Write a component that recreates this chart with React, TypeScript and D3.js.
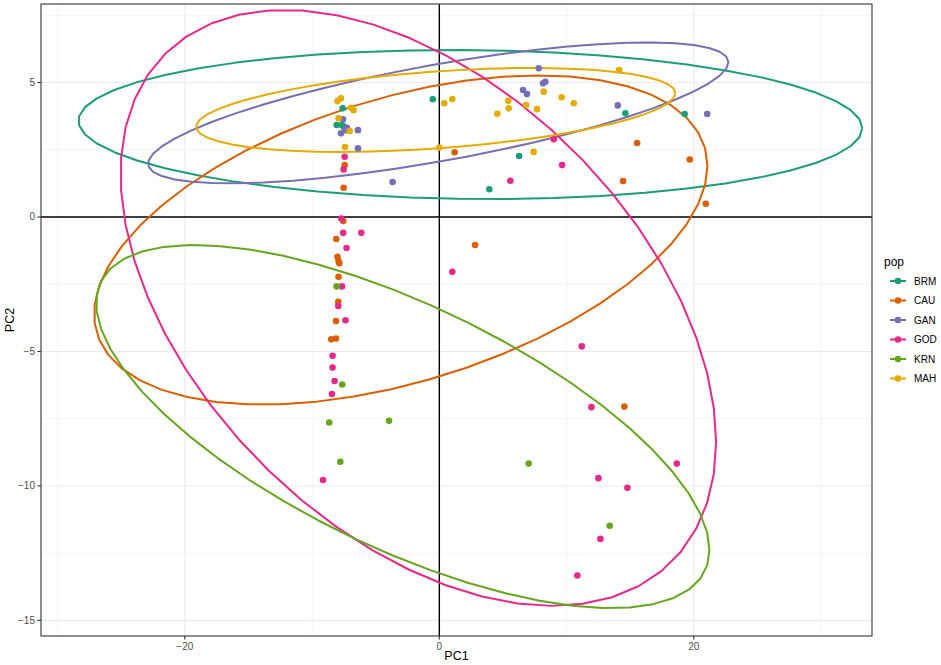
import React from "react";
import * as d3 from "d3";

// ---------- data ----------
const groups = ["BRM", "CAU", "GAN", "GOD", "KRN", "MAH"];
const groupColors = ["#1B9E77", "#D95F02", "#7570B3", "#E7298A", "#66A61E", "#E6AB02"];

const brmPoints: [number, number][] = [
  [-7.6, 4.04], [-8.06, 3.42], [-7.65, 3.42], [-7.52, 3.36], [-0.51, 4.38],
  [14.62, 3.86], [19.28, 3.83], [6.27, 2.27], [3.93, 1.03],
];
const cauPoints: [number, number][] = [
  [-7.44, 1.93], [-7.52, 1.09], [1.2, 2.41], [15.54, 2.75], [19.68, 2.14],
  [14.44, 1.34], [20.94, 0.49], [-7.55, -0.15], [-8.1, -0.82], [-8.0, -1.48],
  [-7.92, -1.64], [-7.86, -1.72], [-7.92, -2.22], [-7.94, -3.15], [-8.12, -3.87],
  [-8.49, -4.55], [-8.12, -4.52], [2.81, -1.04], [14.54, -7.05],
];
const ganPoints: [number, number][] = [
  [-7.57, 3.63], [-7.26, 3.32], [-7.39, 3.23], [-7.73, 3.11], [-6.39, 3.23],
  [-6.39, 2.55], [-3.67, 1.3], [7.81, 5.53], [8.33, 5.03], [8.15, 4.97],
  [6.58, 4.72], [6.89, 4.57], [14.02, 4.15], [21.05, 3.83],
];
const godPoints: [number, number][] = [
  [-7.44, 2.24], [-7.52, 1.77], [-7.7, -0.06], [-7.55, -0.59], [-6.13, -0.59],
  [-7.29, -1.15], [-7.65, -2.58], [-7.94, -3.31], [-7.37, -3.84], [-8.39, -5.16],
  [-8.39, -5.6], [-8.23, -6.1], [-8.44, -6.58], [-9.14, -9.78], [1.02, -2.04],
  [8.99, 2.89], [9.65, 1.93], [5.58, 1.35], [11.19, -4.81], [11.95, -7.07],
  [18.66, -9.17], [12.5, -9.71], [14.78, -10.07], [12.66, -11.97], [10.85, -13.33],
];
const krnPoints: [number, number][] = [
  [-8.07, -2.58], [-7.63, -6.23], [-8.65, -7.64], [-3.95, -7.58], [-7.78, -9.1],
  [7.02, -9.17], [13.39, -11.48],
];
const mahPoints: [number, number][] = [
  [-8.0, 4.31], [-7.73, 4.41], [-6.94, 4.06], [-6.74, 3.97], [-7.92, 3.67],
  [-7.05, 3.2], [-7.41, 2.6], [0.0, 2.58], [0.39, 4.23], [1.02, 4.39],
  [5.42, 4.32], [5.45, 4.04], [6.82, 4.16], [7.68, 4.01], [9.61, 4.45],
  [10.56, 4.23], [4.56, 3.84], [8.2, 4.66], [7.41, 2.42], [14.13, 5.46],
];
const groupPoints = [brmPoints, cauPoints, ganPoints, godPoints, krnPoints, mahPoints];

// ellipse parameters per group (data units): centre, half-extents, correlation
const ellipseCenterX = [2.44, -3.03, -0.08, -1.65, -2.87, -0.28];
const ellipseCenterY = [3.44, -0.855, 3.87, -3.38, -7.79, 3.98];
const ellipseHalfX = [30.8, 24.1, 22.8, 23.4, 24.1, 18.83];
const ellipseHalfY = [2.77, 6.12, 2.62, 11.08, 6.75, 1.56];
const ellipseCorr = [-0.05, 0.45, 0.72, -0.45, -0.68, 0.4];

const xDomain = [-31.3, 34.0];
const yDomain = [-15.58, 7.92];
const xTicks = [-20, 0, 20];
const yTicks = [-15, -10, -5, 0, 5];
const xMinor = [-30, -10, 10, 30];
const yMinor = [-12.5, -7.5, -2.5, 2.5, 7.5];

// ---------- layout ----------
const W = 941, H = 665;
const P = { left: 41, right: 872, top: 4, bottom: 636 };
const FONT = "'Liberation Sans', Arial, Helvetica, sans-serif";

export default function App() {
  const x = d3.scaleLinear().domain(xDomain).range([P.left, P.right]);
  const y = d3.scaleLinear().domain(yDomain).range([P.bottom, P.top]);
  const fmt = d3.format("d");
  const line = d3.line<[number, number]>().x((d) => x(d[0])).y((d) => y(d[1]));

  const ellipsePath = (i: number) => {
    const r = ellipseCorr[i];
    const s = Math.sqrt(1 - r * r);
    const pts: [number, number][] = d3.range(52).map((k) => {
      const t = (k / 51) * 2 * Math.PI;
      return [
        ellipseCenterX[i] + ellipseHalfX[i] * Math.cos(t),
        ellipseCenterY[i] + ellipseHalfY[i] * (r * Math.cos(t) + s * Math.sin(t)),
      ];
    });
    return line(pts) as string;
  };

  const legendX = 884;
  const legendTitleY = 266;
  const keyY0 = 281;
  const keyStep = 19.5;

  return (
    <svg width={W} height={H} style={{ position: "absolute", left: 0, top: 0, background: "#fff" }} fontFamily={FONT}>
      <rect x={0} y={0} width={W} height={H} fill="#fff" />
      <defs>
        <clipPath id="panel">
          <rect x={P.left} y={P.top} width={P.right - P.left} height={P.bottom - P.top} />
        </clipPath>
      </defs>
      {/* grid */}
      <g>
        {xMinor.map((v) => (
          <line key={"xm" + v} x1={x(v)} x2={x(v)} y1={P.top} y2={P.bottom} stroke="#EBEBEB" strokeWidth={0.55} />
        ))}
        {yMinor.map((v) => (
          <line key={"ym" + v} y1={y(v)} y2={y(v)} x1={P.left} x2={P.right} stroke="#EBEBEB" strokeWidth={0.55} />
        ))}
        {xTicks.map((v) => (
          <line key={"xg" + v} x1={x(v)} x2={x(v)} y1={P.top} y2={P.bottom} stroke="#EBEBEB" strokeWidth={1.1} />
        ))}
        {yTicks.map((v) => (
          <line key={"yg" + v} y1={y(v)} y2={y(v)} x1={P.left} x2={P.right} stroke="#EBEBEB" strokeWidth={1.1} />
        ))}
      </g>
      {/* zero lines */}
      <line x1={P.left} x2={P.right} y1={y(0)} y2={y(0)} stroke="#000" strokeWidth={1.4} />
      <line x1={x(0)} x2={x(0)} y1={P.top} y2={P.bottom} stroke="#000" strokeWidth={1.4} />
      {/* ellipses */}
      <g clipPath="url(#panel)">
        {groups.map((g, i) => (
          <path key={"e" + g} d={ellipsePath(i)} fill="none" stroke={groupColors[i]} strokeWidth={2} strokeLinejoin="round" />
        ))}
      </g>
      {/* points */}
      <g>
        {groups.map((g, i) =>
          groupPoints[i].map((p, k) => (
            <circle key={g + k} cx={x(p[0])} cy={y(p[1])} r={3.3} fill={groupColors[i]} />
          ))
        )}
      </g>
      {/* border */}
      <rect x={P.left} y={P.top} width={P.right - P.left} height={P.bottom - P.top} fill="none" stroke="#333333" strokeWidth={1.1} />
      {/* x axis */}
      <g>
        {xTicks.map((v) => (
          <g key={"xt" + v}>
            <line x1={x(v)} x2={x(v)} y1={P.bottom} y2={P.bottom + 3.5} stroke="#333333" strokeWidth={1.1} />
            <text x={x(v)} y={P.bottom + 14} textAnchor="middle" fontSize={10} fill="#4D4D4D">{fmt(v)}</text>
          </g>
        ))}
        <text x={(P.left + P.right) / 2} y={660} textAnchor="middle" fontSize={12.5} fill="#000">PC1</text>
      </g>
      {/* y axis */}
      <g>
        {yTicks.map((v) => (
          <g key={"yt" + v}>
            <line x1={P.left - 3.5} x2={P.left} y1={y(v)} y2={y(v)} stroke="#333333" strokeWidth={1.1} />
            <text x={P.left - 6} y={y(v) + 3.5} textAnchor="end" fontSize={10} fill="#4D4D4D">{fmt(v)}</text>
          </g>
        ))}
        <text transform={`translate(14, ${(P.top + P.bottom) / 2}) rotate(-90)`} textAnchor="middle" fontSize={12.5} fill="#000">PC2</text>
      </g>
      {/* legend */}
      <g>
        <text x={legendX} y={legendTitleY} fontSize={12} fill="#000">pop</text>
        {groups.map((g, i) => {
          const ky = keyY0 + i * keyStep;
          return (
            <g key={"lg" + g}>
              <line x1={legendX + 6} x2={legendX + 22} y1={ky} y2={ky} stroke={groupColors[i]} strokeWidth={2} />
              <circle cx={legendX + 14} cy={ky} r={3.3} fill={groupColors[i]} />
              <text x={legendX + 30} y={ky + 3.6} fontSize={10} fill="#000">{g}</text>
            </g>
          );
        })}
      </g>
    </svg>
  );
}
